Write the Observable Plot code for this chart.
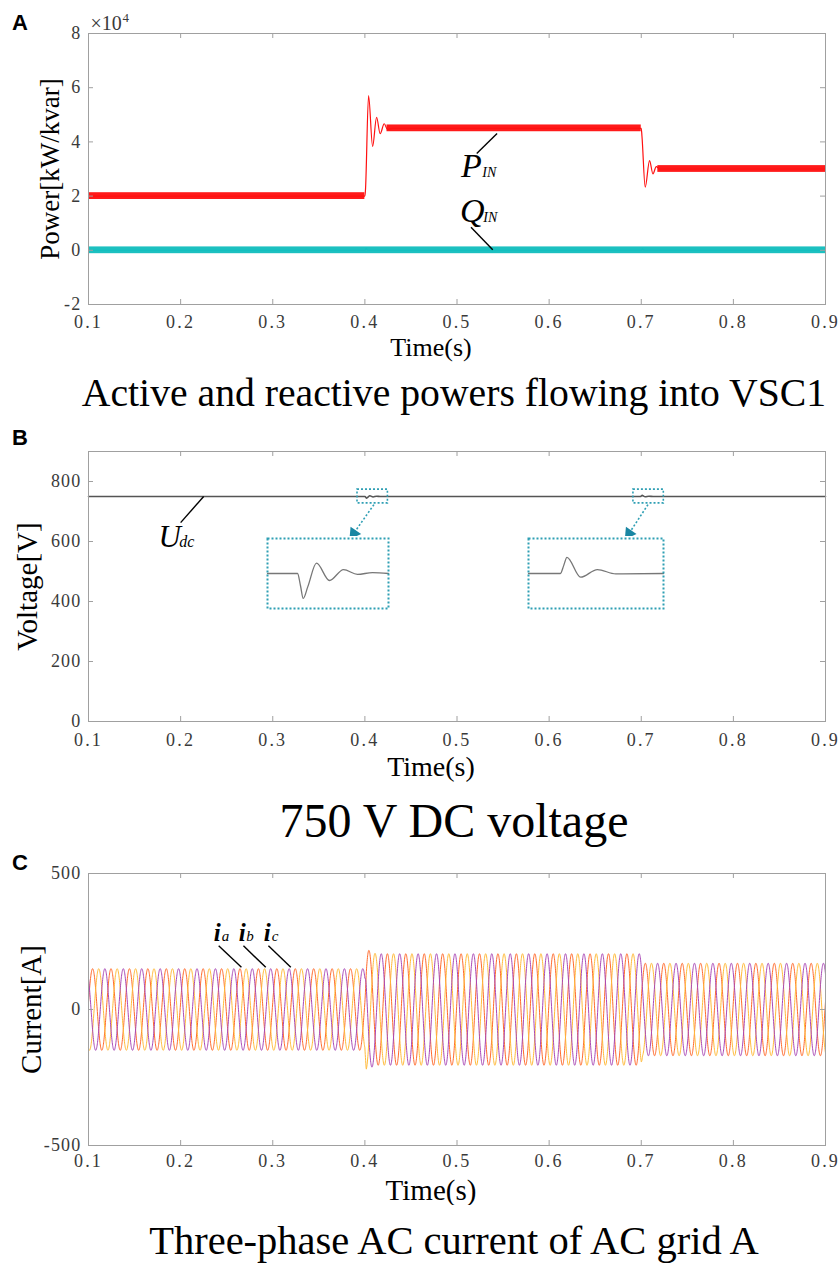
<!DOCTYPE html>
<html>
<head>
<meta charset="utf-8">
<script src="https://cdn.jsdelivr.net/npm/d3@7"></script>
<script src="https://cdn.jsdelivr.net/npm/@observablehq/plot@0.6"></script>
<style>
  body { margin: 0; background: #fff; }
  #wrap { position: relative; width: 840px; height: 1264px; overflow: hidden; background: #fff;
          font-family: "Liberation Serif", "Times New Roman", Times, serif; }
  .abs { position: absolute; }
  .letter { font-family: "Liberation Sans", Arial, sans-serif; font-weight: bold; font-size: 22px; line-height: 1; left: 12px; }
  .title { left: 34px; width: 840px; text-align: center; color: #000; line-height: 1; white-space: nowrap; }
  #wrap g[aria-label="x-axis tick label"] text { letter-spacing: 2.2px; }
  #wrap g[aria-label="y-axis tick label"] text { letter-spacing: 1.2px; }
</style>
</head>
<body>
<div id="wrap"></div>
<script>
// ---------------- DATA ----------------
// shared time axis
const timeTicks = [0.1, 0.2, 0.3, 0.4, 0.5, 0.6, 0.7, 0.8, 0.9];

// Panel A: power flowing into VSC1 (kW / kvar)
const powerTicks = [-20000, 0, 20000, 40000, 60000, 80000];
const pTime  = [0.1, 0.4, 0.4006, 0.4040, 0.4084, 0.4127, 0.4166, 0.4210, 0.4245, 0.430, 0.700, 0.7008, 0.7043, 0.7090, 0.7127, 0.7163, 0.7200, 0.9];
const pValue = [20000, 20000, 22000, 57100, 38300, 49100, 43000, 46700, 44600, 45000, 45000, 42000, 23300, 33100, 28200, 30900, 30000, 30000];
const qTime  = [0.1, 0.400, 0.4015, 0.403, 0.700, 0.7015, 0.703, 0.9];
const qValue = [0, 0, 700, 0, 0, 500, 0, 0];
// steady-state segments with switching ripple (half band width)
const pSteadyStart = [0.1, 0.424, 0.718];
const pSteadyEnd   = [0.4, 0.700, 0.9];
const pSteadyLevel = [20000, 45000, 30000];
const pRipple = 1250;
const qSteadyStart = [0.1];
const qSteadyEnd   = [0.9];
const qSteadyLevel = [0];
const qRipple = 1250;
// annotation labels
const labelA      = ["P", "Q"];
const labelASub   = ["IN", "IN"];
const labelATime  = [0.5043, 0.5033];
const labelASubTime = [0.5275, 0.5285];
const labelAValue = [26900, 10600];
const leaderATime1 = [0.5435, 0.5152], leaderAValue1 = [43100, 8500];
const leaderATime2 = [0.5214, 0.5388], leaderAValue2 = [35700, 200];

// Panel B: DC voltage (V)
const voltageTicks = [0, 200, 400, 600, 800];
const inset1Time  = [0.392, 0.3995, 0.4002, 0.4010, 0.40174, 0.4030, 0.40536, 0.40891, 0.41273, 0.41654, 0.42063, 0.425];
const inset1Value = [750, 750, 750, 747.2, 744.3, 747.0, 752.35, 748.4, 750.9, 749.8, 750.2, 750];
const inset2Time  = [0.6915, 0.6993, 0.7001, 0.7009, 0.70425, 0.70834, 0.71283, 0.7245];
const inset2Value = [750, 750, 751.8, 753.7, 749.15, 750.9, 749.9, 750];
const insetVoltDomain = [742, 758];
const zoomStart = [0.392, 0.6915];
const zoomEnd   = [0.425, 0.7245];
const zoomLow = 727, zoomHigh = 773;
const arrowTime1 = [0.4098, 0.7073], arrowVolt1 = 723;
const arrowTime2 = [0.3879, 0.6868], arrowVolt2 = 627;
const udcLabelTime = 0.1761, udcSubTime = 0.1985, udcLabelValue = 581;
const udcLeaderTime = [0.225, 0.200], udcLeaderValue = [750, 663];

// Panel C: three-phase AC current (A)
const currentTicks = [-500, 0, 500];
const currentFreq = 50;                       // Hz (40 cycles between 0.1 s and 0.9 s)
const envTime = [0.1, 0.4, 0.4015, 0.412, 0.7, 0.7015, 0.9];
const envAmp  = [150, 150, 222, 205, 205, 170, 170];
const phaseName  = ["ia", "ib", "ic"];
const phaseDeg   = [10, -110, -230];          // phase angle at t = 0.1 s
const phaseColor = ["#ff6a2b", "#ffbb3a", "#a948b6"];
const labelCSub  = ["a", "b", "c"];
const labelCTime = [0.2359, 0.2630, 0.2902];
const labelCSubTime = [0.2446, 0.2712, 0.2989];
const labelCValue = 253;
const leaderCTime1 = [0.2413, 0.2682, 0.2953], leaderCValue1 = 234;
const leaderCTime2 = [0.2660, 0.2924, 0.3196], leaderCValue2 = 155;

// ---------------- STYLE ----------------
const serif = "'Liberation Serif','Times New Roman',Times,serif";
const frameGray = "#a0a0a0";
const tickLabel = "#3a3a3a";
const teal = "#2f9fb4";
const W = 840, ML = 88, MR = 15;
const plotW = W - ML - MR;

function boxTicks(yTicks, plotH) {
  return [
    Plot.tickX(timeTicks, {x: d => d, insetTop: plotH - 5, stroke: frameGray}),
    Plot.tickX(timeTicks, {x: d => d, insetBottom: plotH - 5, stroke: frameGray}),
    Plot.tickY(yTicks, {y: d => d, insetRight: plotW - 5, stroke: frameGray}),
    Plot.tickY(yTicks, {y: d => d, insetLeft: plotW - 5, stroke: frameGray}),
    Plot.frame({stroke: frameGray, strokeWidth: 1})
  ];
}
function axes(yTicks, yFmt, fs, padX) {
  return [
    Plot.axisX({ticks: timeTicks, tickSize: 0, tickPadding: padX, tickFormat: d3.format(".1f"),
      fontSize: fs, fontFamily: serif, fill: tickLabel, label: null}),
    Plot.axisY({ticks: yTicks, tickSize: 0, tickPadding: 7, tickFormat: yFmt,
      fontSize: fs, fontFamily: serif, fill: tickLabel, label: null})
  ];
}
function place(el, left, top) {
  el.style.position = "absolute"; el.style.left = left + "px"; el.style.top = top + "px";
  document.getElementById("wrap").appendChild(el);
}
function addDiv(cls, text, top, fontSize) {
  const d = document.createElement("div");
  d.className = "abs " + cls; d.textContent = text; d.style.top = top + "px";
  if (fontSize) d.style.fontSize = fontSize + "px";
  document.getElementById("wrap").appendChild(d);
}
const idx = n => d3.range(n);

// ---------------- PANEL A ----------------
{
  const H = 365, MT = 33, MB = 61, plotH = H - MT - MB;
  const pData = pTime.map((t, i) => ({t, v: pValue[i]}));
  const qData = qTime.map((t, i) => ({t, v: qValue[i]}));
  const chart = Plot.plot({
    width: W, height: H, marginLeft: ML, marginRight: MR, marginTop: MT, marginBottom: MB,
    style: {fontFamily: serif, background: "transparent"},
    x: {domain: [0.1, 0.9]},
    y: {domain: [-20000, 80000]},
    marks: [
      Plot.rect(idx(pSteadyStart.length), {x1: i => pSteadyStart[i], x2: i => pSteadyEnd[i],
        y1: i => pSteadyLevel[i] - pRipple, y2: i => pSteadyLevel[i] + pRipple, fill: "#ff1a1a"}),
      Plot.rect(idx(qSteadyStart.length), {x1: i => qSteadyStart[i], x2: i => qSteadyEnd[i],
        y1: i => qSteadyLevel[i] - qRipple, y2: i => qSteadyLevel[i] + qRipple, fill: "#1cc0c0"}),
      Plot.line(pData, {x: "t", y: "v", stroke: "#ff1010", strokeWidth: 1.2, curve: "monotone-x"}),
      Plot.line(qData, {x: "t", y: "v", stroke: "#12bfbf", strokeWidth: 1.2, curve: "monotone-x"}),
      Plot.link(idx(2), {x1: i => leaderATime1[i], y1: i => leaderAValue1[i], x2: i => leaderATime2[i], y2: i => leaderAValue2[i],
        stroke: "#000", strokeWidth: 1.4}),
      Plot.text(idx(2), {x: i => labelATime[i], y: i => labelAValue[i], text: i => labelA[i], textAnchor: "start",
        lineAnchor: "bottom", fontSize: 34, fontStyle: "italic", fontFamily: serif, fill: "#000"}),
      Plot.text(idx(2), {x: i => labelASubTime[i], y: i => labelAValue[i], text: i => labelASub[i], textAnchor: "start",
        lineAnchor: "bottom", fontSize: 14, fontStyle: "italic", fontFamily: serif, fill: "#000"}),
      ...boxTicks(powerTicks, plotH),
      ...axes(powerTicks, d => String(d / 1e4), 18, 11),
      Plot.text(["×10"], {frameAnchor: "top-left", textAnchor: "start", lineAnchor: "bottom", dx: 2, dy: -4,
        fontSize: 20, fontFamily: serif, fill: tickLabel}),
      Plot.text(["4"], {frameAnchor: "top-left", textAnchor: "start", lineAnchor: "bottom", dx: 34, dy: -12,
        fontSize: 13, fontFamily: serif, fill: tickLabel}),
      Plot.text(["Time(s)"], {frameAnchor: "bottom", lineAnchor: "bottom", dx: -26, dy: 51,
        fontSize: 26, fontFamily: serif, fill: "#000"}),
      Plot.text(["Power[kW/kvar]"], {frameAnchor: "left", rotate: -90, dx: -38, textAnchor: "middle", lineAnchor: "middle",
        fontSize: 27, fontFamily: serif, fill: "#000"})
    ]
  });
  place(chart, 0, 0);
  addDiv("letter", "A", 12);
  addDiv("title", "Active and reactive powers flowing into VSC1", 374, 39.7);
}

// ---------------- PANEL B ----------------
{
  const top = 420, H = 365, MT = 31, MB = 64, plotH = H - MT - MB;
  const udc = [{t: 0.1, v: 750}]
    .concat(inset1Time.map((t, i) => ({t, v: inset1Value[i]})))
    .concat(inset2Time.map((t, i) => ({t, v: inset2Value[i]})))
    .concat([{t: 0.9, v: 750}]);
  const chart = Plot.plot({
    width: W, height: H, marginLeft: ML, marginRight: MR, marginTop: MT, marginBottom: MB,
    style: {fontFamily: serif, background: "transparent"},
    x: {domain: [0.1, 0.9]},
    y: {domain: [0, 900]},
    marks: [
      Plot.line(udc, {x: "t", y: "v", stroke: "#555", strokeWidth: 1.6, curve: "monotone-x"}),
      Plot.rect(idx(2), {x1: i => zoomStart[i], x2: i => zoomEnd[i], y1: zoomLow, y2: zoomHigh,
        fill: "none", stroke: teal, strokeWidth: 1.6, strokeDasharray: "2,2"}),
      Plot.link(idx(2), {x1: i => arrowTime1[i], y1: arrowVolt1, x2: i => arrowTime2[i], y2: arrowVolt2,
        stroke: teal, strokeWidth: 1.6, strokeDasharray: "2,2"}),
      Plot.dot(idx(2), {x: i => arrowTime2[i], y: arrowVolt2, symbol: "triangle", r: 4.8, rotate: 215,
        fill: "#1a86a3", stroke: "none"}),
      Plot.link([0], {x1: udcLeaderTime[0], y1: udcLeaderValue[0], x2: udcLeaderTime[1], y2: udcLeaderValue[1],
        stroke: "#000", strokeWidth: 1.4}),
      Plot.text(["U"], {x: udcLabelTime, y: udcLabelValue, textAnchor: "start", lineAnchor: "bottom",
        fontSize: 31, fontStyle: "italic", fontFamily: serif, fill: "#000"}),
      Plot.text(["dc"], {x: udcSubTime, y: udcLabelValue, textAnchor: "start", lineAnchor: "bottom",
        fontSize: 16, fontStyle: "italic", fontFamily: serif, fill: "#000"}),
      ...boxTicks(voltageTicks, plotH),
      ...axes(voltageTicks, d => String(d), 18, 12),
      Plot.text(["Time(s)"], {frameAnchor: "bottom", lineAnchor: "bottom", dx: -26, dy: 54,
        fontSize: 28, fontFamily: serif, fill: "#000"}),
      Plot.text(["Voltage[V]"], {frameAnchor: "left", rotate: -90, dx: -61, textAnchor: "middle", lineAnchor: "middle",
        fontSize: 29, fontFamily: serif, fill: "#000"})
    ]
  });
  place(chart, 0, top);

  // magnified insets (each drawn with its own scales)
  const insets = [
    {time: inset1Time, value: inset1Value, domain: [zoomStart[0], zoomEnd[0]], left: 265, w: 125},
    {time: inset2Time, value: inset2Value, domain: [zoomStart[1], zoomEnd[1]], left: 526, w: 139}
  ];
  for (const ins of insets) {
    const data = ins.time.map((t, i) => ({t, v: ins.value[i]}));
    const p = Plot.plot({
      width: ins.w, height: 74, margin: 2,
      style: {background: "white"},
      x: {domain: ins.domain, axis: null},
      y: {domain: insetVoltDomain, axis: null},
      marks: [
        Plot.line(data, {x: "t", y: "v", stroke: "#777", strokeWidth: 1.3, curve: "monotone-x"}),
        Plot.frame({stroke: teal, strokeWidth: 2, strokeDasharray: "2,2"})
      ]
    });
    place(p, ins.left, 536);
  }
  addDiv("letter", "B", 427);
  addDiv("title", "750 V DC voltage", 797, 48);
}

// ---------------- PANEL C ----------------
{
  const top = 840, H = 365, MT = 33, MB = 60, plotH = H - MT - MB;
  const amp = d3.scaleLinear(envTime, envAmp);
  const sampleTimes = d3.range(0.1, 0.90001, 0.0002);
  const waves = phaseName.flatMap((name, k) => sampleTimes.map(t => ({
    phase: name, t,
    v: amp(t) * Math.sin(2 * Math.PI * currentFreq * (t - 0.1) + phaseDeg[k] * Math.PI / 180)
  })));
  const chart = Plot.plot({
    width: W, height: H, marginLeft: ML, marginRight: MR, marginTop: MT, marginBottom: MB,
    style: {fontFamily: serif, background: "transparent"},
    x: {domain: [0.1, 0.9]},
    y: {domain: [-500, 500]},
    color: {domain: phaseName, range: phaseColor},
    marks: [
      Plot.line(waves, {x: "t", y: "v", z: "phase", stroke: "phase", strokeWidth: 1}),
      Plot.link(idx(3), {x1: i => leaderCTime1[i], y1: leaderCValue1, x2: i => leaderCTime2[i], y2: leaderCValue2,
        stroke: "#000", strokeWidth: 1.4}),
      Plot.text(idx(3), {x: i => labelCTime[i], y: labelCValue, text: () => "i", textAnchor: "start", lineAnchor: "bottom",
        fontSize: 25, fontStyle: "italic", fontWeight: "bold", fontFamily: serif, fill: "#000"}),
      Plot.text(idx(3), {x: i => labelCSubTime[i], y: labelCValue, text: i => labelCSub[i], textAnchor: "start", lineAnchor: "bottom",
        fontSize: 15, fontStyle: "italic", fontFamily: serif, fill: "#000"}),
      ...boxTicks(currentTicks, plotH),
      ...axes(currentTicks, d => String(d), 18, 9),
      Plot.text(["Time(s)"], {frameAnchor: "bottom", lineAnchor: "bottom", dx: -26, dy: 54,
        fontSize: 29, fontFamily: serif, fill: "#000"}),
      Plot.text(["Current[A]"], {frameAnchor: "left", rotate: -90, dx: -57, textAnchor: "middle", lineAnchor: "middle",
        fontSize: 29, fontFamily: serif, fill: "#000"})
    ]
  });
  place(chart, 0, top);
  addDiv("letter", "C", 852);
  addDiv("title", "Three-phase AC current of AC grid A", 1221, 40.5);
}
</script>
</body>
</html>
